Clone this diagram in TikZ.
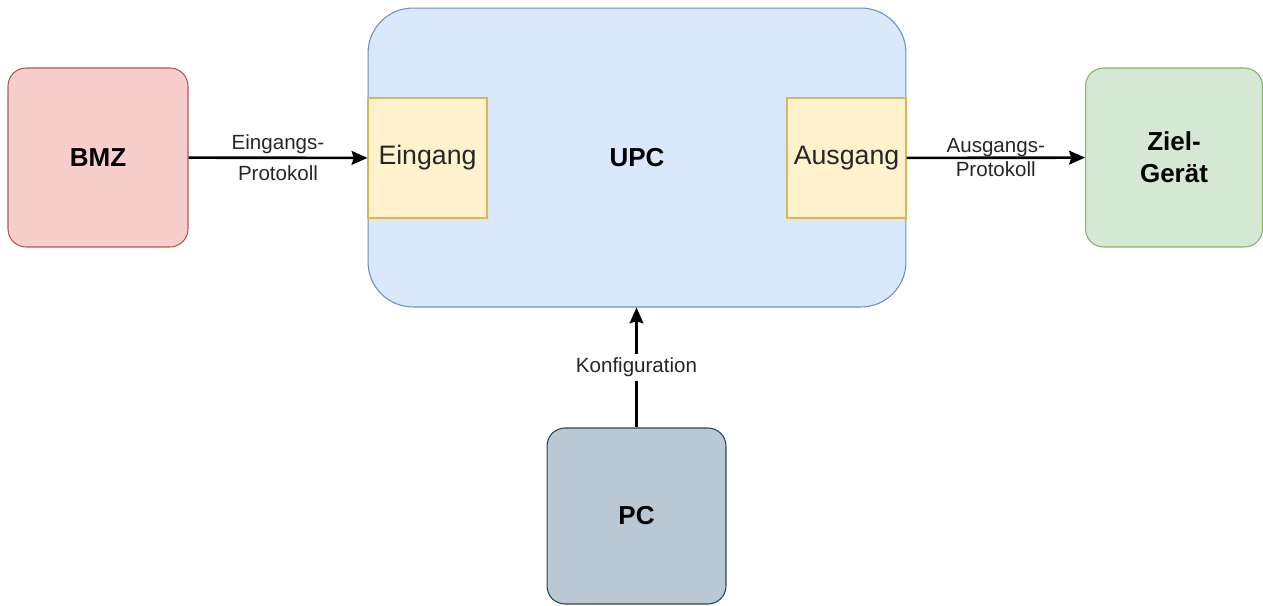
\documentclass[tikz,border=0pt]{standalone}
\usepackage{fontspec}
\setmainfont{Liberation Sans}
\usetikzlibrary{arrows.meta, positioning}

\definecolor{redfill}{HTML}{F8CECC}
\definecolor{redline}{HTML}{B85450}
\definecolor{bluefill}{HTML}{DAE8FC}
\definecolor{blueline}{HTML}{6C8EBF}
\definecolor{yelfill}{HTML}{FFF2CC}
\definecolor{yelline}{HTML}{D6B656}
\definecolor{greenfill}{HTML}{D5E8D4}
\definecolor{greenline}{HTML}{82B366}
\definecolor{grayfill}{HTML}{BAC8D3}
\definecolor{grayline}{HTML}{23445D}

\begin{document}
\begin{tikzpicture}[
    x=0.02cm, y=-0.02cm,
    >={Stealth[length=9pt, width=7.8pt, inset=1.2pt]},
    box/.style={draw, line width=0.6pt, rounded corners=0.36cm, align=center,
      minimum width=3.6cm, minimum height=3.58cm,
      font=\bfseries\fontsize{14.8}{18.4}\selectfont},
    portbox/.style={draw=yelline, fill=yelfill, line width=0.6pt,
      minimum width=2.38cm, minimum height=2.4cm,
      font=\fontsize{15.2}{18}\selectfont, text=black!85},
    flow/.style={->, line width=1.5pt},
    flowlab/.style={align=center, text=black!85, inner sep=2pt},
  ]
  \useasboundingbox (0,0) rectangle (1263,605);

  \node[box, draw=redline, fill=redfill] (bmz) at (98,157.5) {BMZ};
  \node[box, draw=blueline, fill=bluefill, rounded corners=0.9cm,
    minimum width=10.76cm, minimum height=5.98cm] (upc) at (637,157.5) {UPC};
  \node[portbox] (eingang) at (427.5,158) {Eingang};
  \node[portbox] (ausgang) at (846.5,158) {Ausgang};
  \node[box, draw=greenline, fill=greenfill, minimum width=3.54cm] (ziel) at (1174,157.5) {Ziel-\\Gerät};
  \node[box, draw=grayline, fill=grayfill, minimum width=3.58cm, minimum height=3.52cm] (pc) at (636.5,516) {PC};

  \draw[flow] (bmz) -- node[flowlab, font=\fontsize{11.7}{17.6}\selectfont] (einlab) {Eingangs-\\Protokoll} (eingang);
  \draw[flow] (ausgang) -- node[flowlab, font=\fontsize{11.7}{13.7}\selectfont] (auslab) {Ausgangs-\\Protokoll} (ziel);
  \draw[flow] (pc.north) -- node[flowlab, fill=white, font=\fontsize{11.7}{14}\selectfont] (konflab) {Konfiguration} (pc.north |- upc.south);
\end{tikzpicture}
\end{document}
